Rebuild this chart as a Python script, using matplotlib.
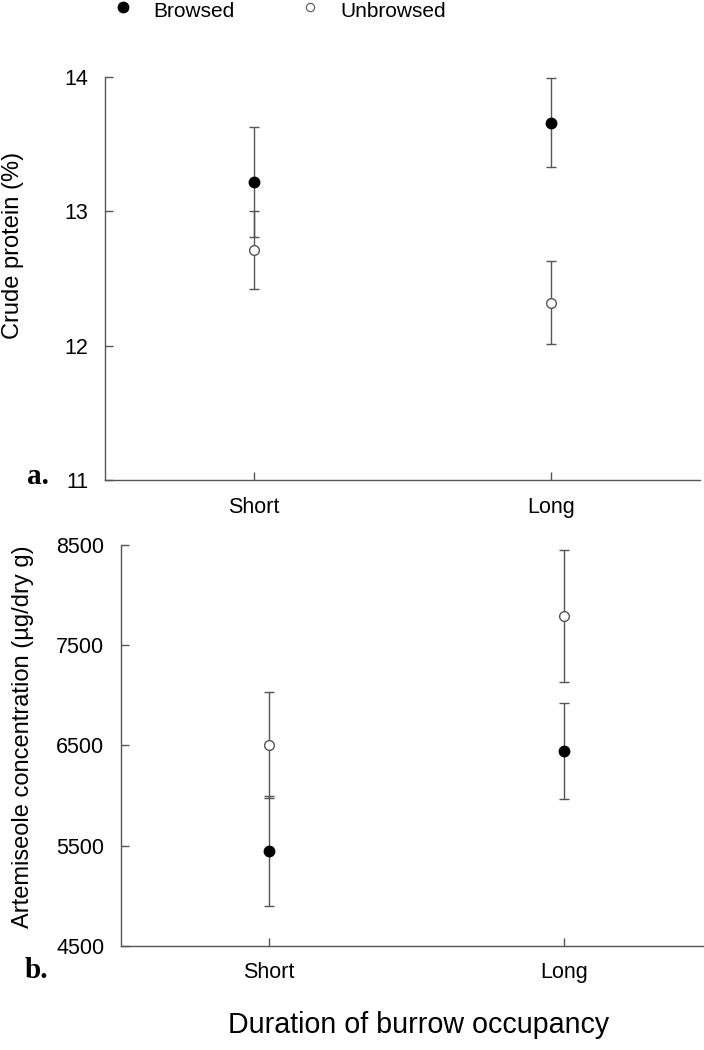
import matplotlib.pyplot as plt
from matplotlib.lines import Line2D

plt.rcParams['font.family'] = ['Liberation Sans', 'DejaVu Sans']

categories = ["Short", "Long"]

# panel a: crude protein (%)
protein_browsed = [13.22, 13.66]
protein_browsed_err = [0.41, 0.33]
protein_unbrowsed = [12.71, 12.32]
protein_unbrowsed_err = [0.29, 0.31]

# panel b: artemiseole concentration (ug/dry g)
artem_browsed = [5445, 6444]
artem_browsed_err = [550, 480]
artem_unbrowsed = [6500, 7790]
artem_unbrowsed_err = [530, 657]

grey = "#555555"
xs = [1, 2]

fig = plt.figure(figsize=(7.04, 10.5), dpi=100)
ax1 = fig.add_axes([0.149, 0.5429, 0.845, 0.3838])
ax2 = fig.add_axes([0.1719, 0.0993, 0.8395, 0.3817])


def draw(ax, browsed, berr, unbrowsed, uerr):
    ax.errorbar(xs, unbrowsed, yerr=uerr, fmt="o", color=grey, ecolor=grey,
                elinewidth=1, capsize=3.3, capthick=1, ms=7, mfc="white",
                mec=grey, mew=1, zorder=3)
    ax.errorbar(xs, browsed, yerr=berr, fmt="o", color="black", ecolor=grey,
                elinewidth=1, capsize=3.3, capthick=1, ms=7.5, mfc="black",
                mec="black", zorder=4)
    ax.set_xlim(0.5, 2.5)
    ax.set_xticks(xs)
    ax.set_xticklabels(categories)
    for side in ["top", "right"]:
        ax.spines[side].set_visible(False)
    for side in ["left", "bottom"]:
        ax.spines[side].set_color(grey)
        ax.spines[side].set_linewidth(1)
    ax.tick_params(direction="in", length=6, width=1, color=grey,
                   labelsize=15.5, pad=12)


draw(ax1, protein_browsed, protein_browsed_err, protein_unbrowsed, protein_unbrowsed_err)
ax1.set_ylim(11, 14)
ax1.set_yticks([11, 12, 13, 14])
ax1.set_ylabel("Crude protein (%)", fontsize=17)
ax1.yaxis.set_label_coords(-0.136, 0.583)

draw(ax2, artem_browsed, artem_browsed_err, artem_unbrowsed, artem_unbrowsed_err)
ax2.set_ylim(4500, 8500)
ax2.set_yticks([4500, 5500, 6500, 7500, 8500])
ax2.set_ylabel("Artemiseole concentration (µg/dry g)", fontsize=17)
ax2.yaxis.set_label_coords(-0.147, 0.522)

fig.text(0.594, 0.0162, "Duration of burrow occupancy", fontsize=20.6,
         ha="center", va="baseline")

fig.text(0.038, 0.539, "a.", fontsize=21, fontweight="bold",
         family="Liberation Serif", va="baseline")
fig.text(0.0355, 0.0686, "b.", fontsize=21, fontweight="bold",
         family="Liberation Serif", va="baseline")

# legend along the top edge
fig.add_artist(Line2D([0.1747], [0.9933], marker="o", ms=7.5, color="black",
                      transform=fig.transFigure))
fig.add_artist(Line2D([0.4403], [0.9933], marker="o", ms=6, mfc="white",
                      mec=grey, mew=0.8, transform=fig.transFigure))
fig.text(0.2173, 0.9835, "Browsed", fontsize=15, va="baseline")
fig.text(0.483, 0.9835, "Unbrowsed", fontsize=15, va="baseline")

fig.savefig("out.png", dpi=100)
